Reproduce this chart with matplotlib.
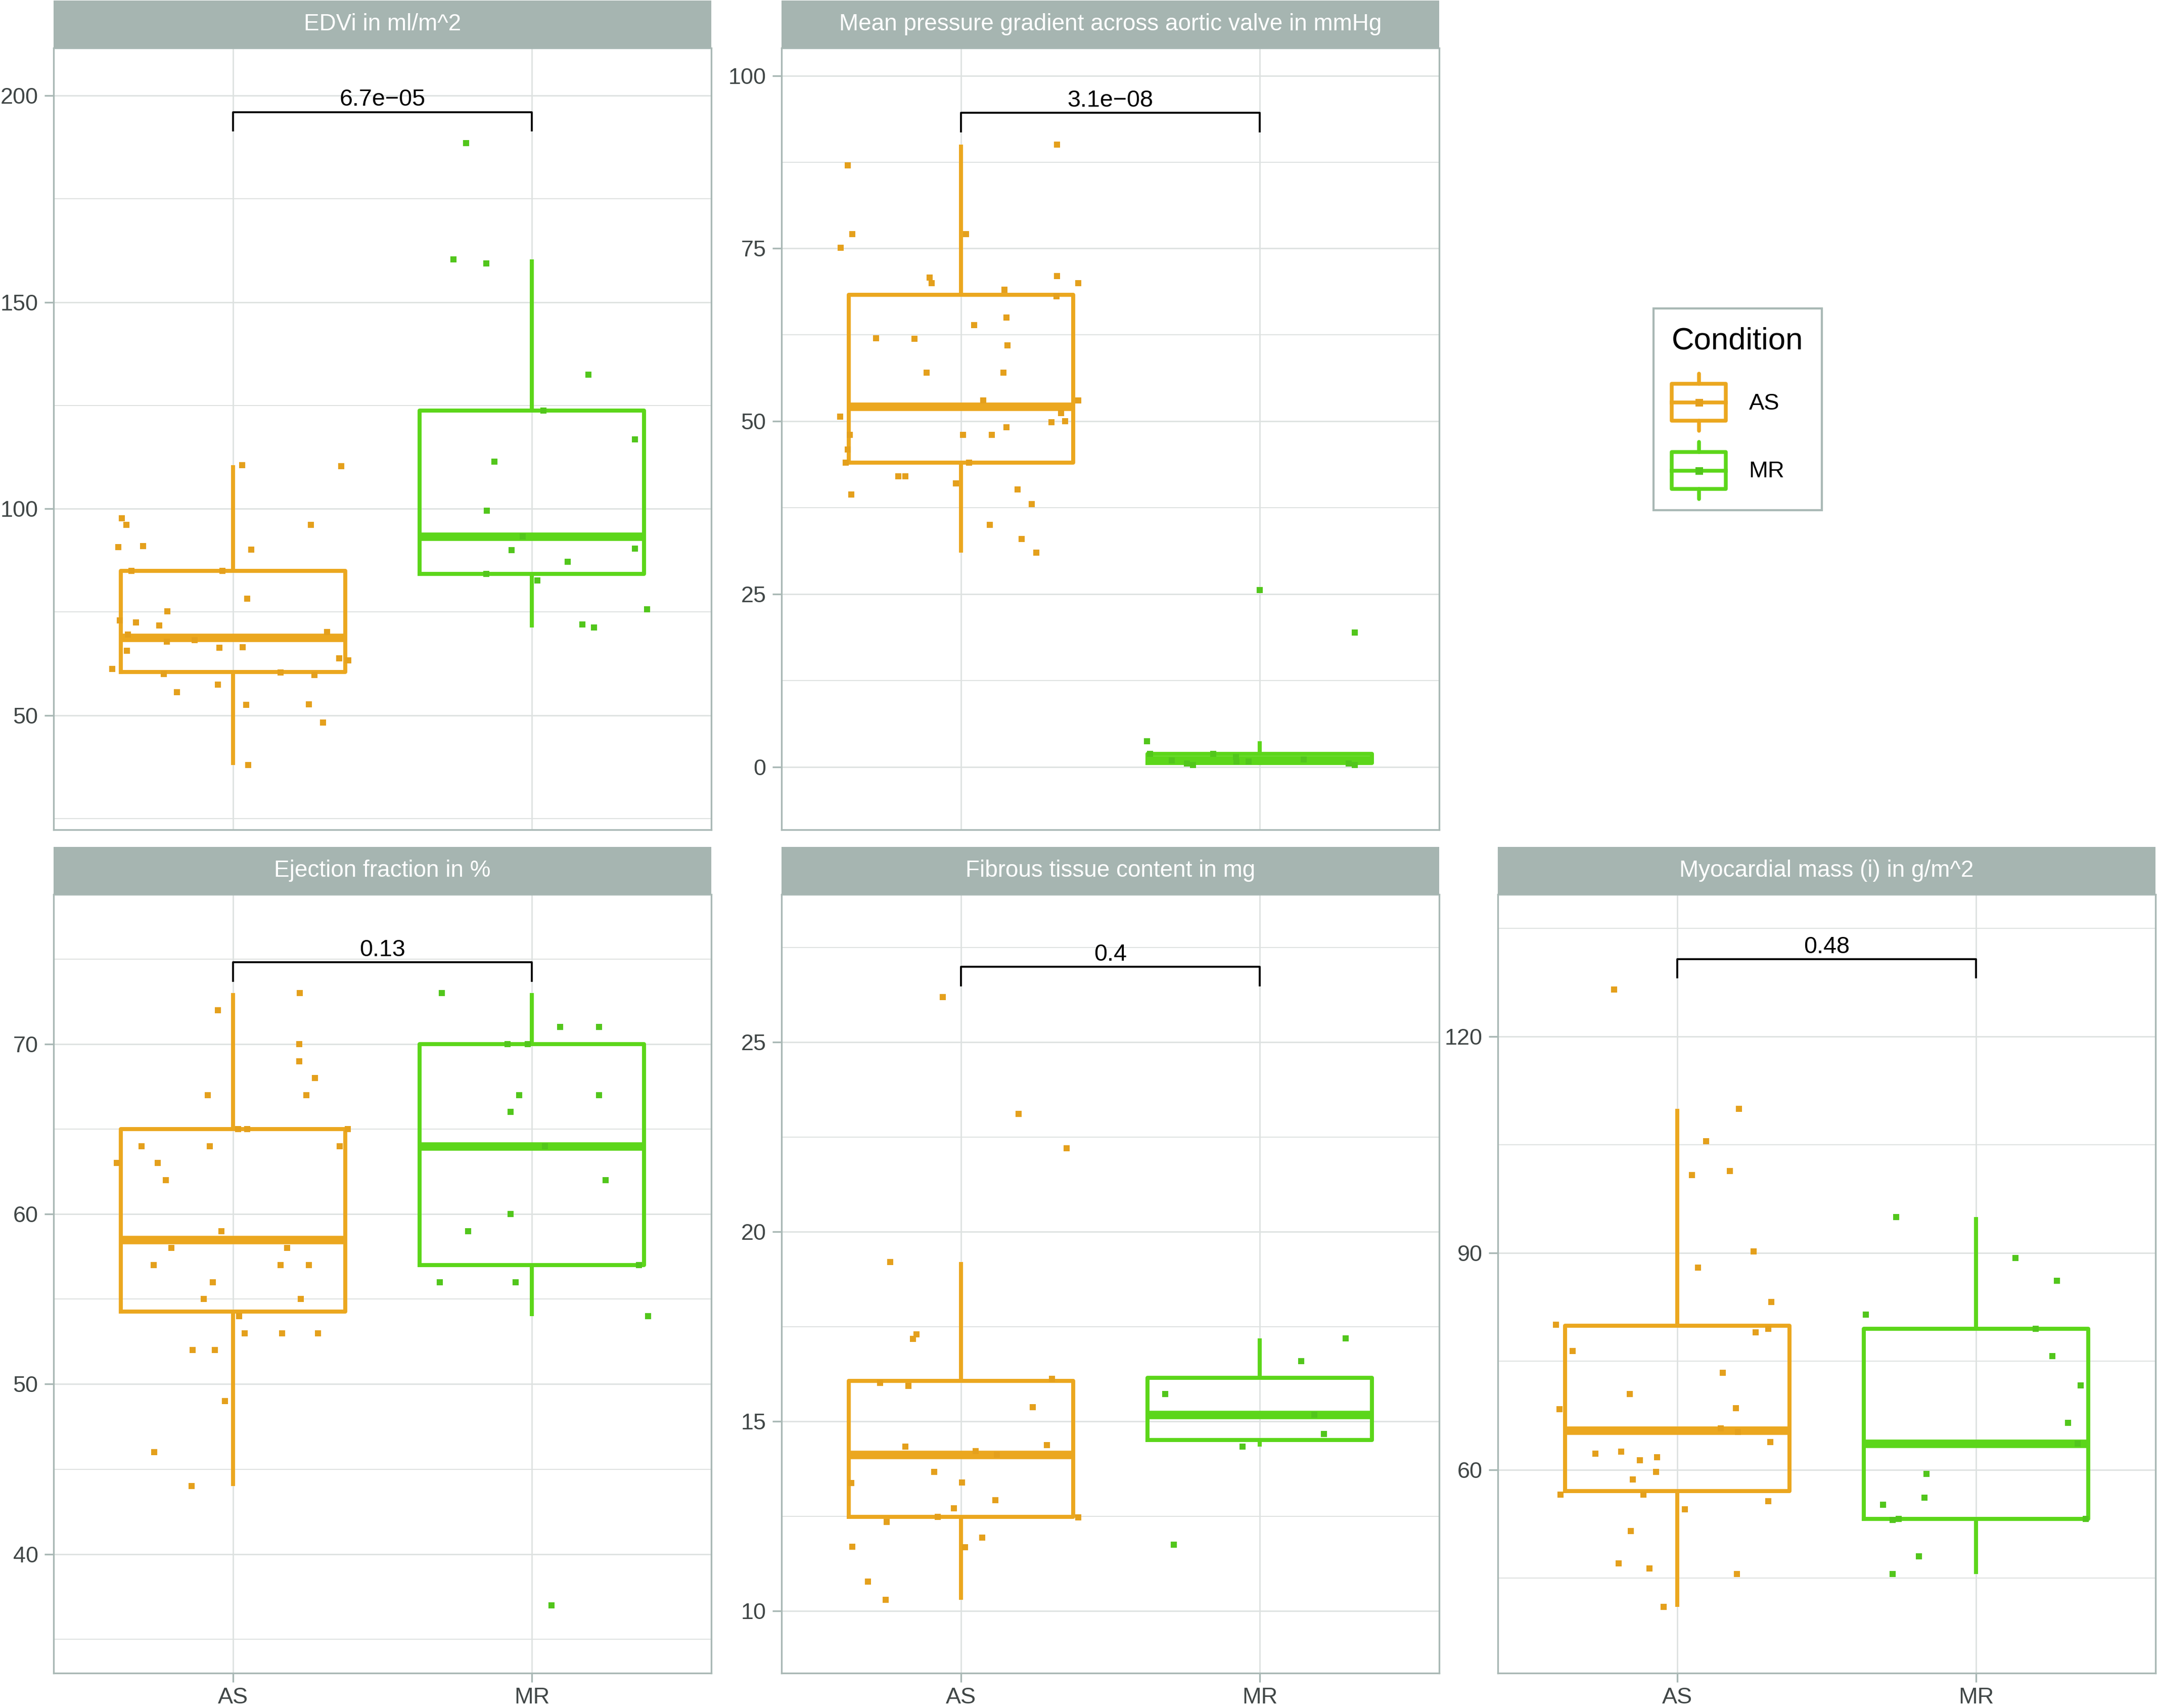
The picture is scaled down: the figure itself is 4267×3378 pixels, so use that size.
import numpy as np
import matplotlib
matplotlib.use('Agg')
import matplotlib.pyplot as plt
from matplotlib.legend_handler import HandlerBase
from matplotlib.patches import Patch, Rectangle
from matplotlib.lines import Line2D

plt.rcParams['font.family'] = ['Liberation Sans', 'DejaVu Sans']

groups = ['AS', 'MR']

# EDVi in ml/m^2
edvi_as = [97.7, 96.1, 90.7, 90.95, 85.0, 85.0, 110.5, 110.3, 96.1, 90.1, 78.2, 75.2, 73.0, 72.5,
           71.8, 70.2, 69.5, 67.8, 68.2, 65.6, 66.3, 66.5, 63.8, 63.3, 61.2, 60.0, 60.3, 59.8,
           55.6, 57.4, 52.5, 52.6, 48.3, 38.0]
edvi_as_dx = [-0.371, -0.357, -0.384, -0.300, -0.339, -0.036, 0.030, 0.362, 0.260, 0.061, 0.048,
              -0.220, -0.379, -0.325, -0.246, 0.315, -0.351, -0.222, -0.128, -0.355, -0.045, 0.033,
              0.355, 0.386, -0.403, -0.232, 0.160, 0.273, -0.188, -0.050, 0.044, 0.254, 0.301, 0.051]
edvi_mr = [188.5, 160.3, 159.4, 132.4, 123.8, 116.8, 111.4, 99.5, 93.3, 90.0, 90.3, 87.2, 84.2,
           82.6, 75.6, 72.0, 71.3]
edvi_mr_dx = [-0.220, -0.263, -0.153, 0.189, 0.038, 0.344, -0.125, -0.151, -0.030, -0.068, 0.344,
              0.119, -0.152, 0.018, 0.386, 0.168, 0.207]

# mean pressure gradient in mmHg
mpg_as = [87.0, 90.0, 77.1, 77.1, 75.1, 70.8, 70.0, 69.0, 71.0, 70.0, 68.1, 63.9, 65.0, 62.0, 61.9,
          61.0, 57.0, 57.0, 53.0, 53.0, 51.2, 50.7, 49.9, 50.0, 48.0, 48.0, 48.0, 49.1, 45.9, 44.0,
          44.0, 42.0, 42.0, 41.0, 39.4, 40.1, 38.0, 35.0, 33.0, 31.0]
mpg_as_dx = [-0.378, 0.322, -0.364, 0.018, -0.402, -0.104, -0.097, 0.146, 0.322, 0.393, 0.320,
             0.045, 0.152, -0.283, -0.155, 0.156, -0.114, 0.143, 0.075, 0.393, 0.335, -0.403,
             0.303, 0.348, -0.372, 0.007, 0.104, 0.152, -0.379, -0.385, 0.027, -0.209, -0.185,
             -0.017, -0.366, 0.189, 0.237, 0.097, 0.203, 0.253]
mpg_mr = [25.6, 19.4, 3.7, 1.9, 0.9, 0.5, 0.3, 1.9, 1.4, 0.8, 0.8, 1.1, 0.5, 0.3]
mpg_mr_dx = [0.0, 0.317, -0.378, -0.368, -0.294, -0.243, -0.224, -0.156, -0.080, -0.078, -0.038,
             0.146, 0.297, 0.318]

# ejection fraction in %
ef_as = [73, 72, 70, 69, 68, 67, 67, 65, 65, 65, 64, 64, 64, 63, 63, 62, 59, 58, 58, 57, 57, 57,
         56, 55, 55, 54, 53, 53, 53, 52, 52, 49, 46, 44]
ef_as_dx = [0.224, -0.051, 0.222, 0.222, 0.274, -0.084, 0.246, 0.017, 0.048, 0.384, -0.305, -0.078,
            0.357, -0.389, -0.251, -0.224, -0.038, -0.206, 0.182, -0.266, 0.159, 0.254, -0.068,
            -0.098, 0.227, 0.020, 0.040, 0.165, 0.284, -0.135, -0.061, -0.026, -0.264, -0.139]
ef_mr = [73, 71, 71, 70, 70, 67, 67, 66, 64, 62, 60, 59, 57, 56, 56, 54, 37]
ef_mr_dx = [-0.301, 0.094, 0.224, -0.082, -0.013, -0.043, 0.224, -0.072, 0.044, 0.246, -0.072,
            -0.213, 0.358, -0.308, -0.054, 0.389, 0.065]

# fibrous tissue content in mg
fib_as = [26.19, 23.11, 22.21, 19.21, 17.30, 17.18, 16.01, 15.93, 16.12, 15.38, 14.34, 14.37, 14.22,
          14.12, 13.67, 13.37, 13.39, 12.92, 12.71, 12.48, 12.47, 12.35, 11.70, 11.68, 11.94, 10.77,
          10.29]
fib_as_dx = [-0.061, 0.193, 0.354, -0.237, -0.149, -0.161, -0.270, -0.176, 0.305, 0.240, -0.186,
             0.287, 0.050, 0.120, -0.089, -0.366, 0.003, 0.115, -0.024, -0.078, 0.392, -0.249,
             -0.364, 0.013, 0.071, -0.311, -0.251]
fib_mr = [17.19, 16.59, 15.72, 15.18, 14.67, 14.34, 11.75]
fib_mr_dx = [0.288, 0.138, -0.317, 0.183, 0.214, -0.057, -0.287]

# myocardial mass (i) in g/m^2
myo_as = [126.5, 110.0, 105.5, 100.8, 101.4, 90.2, 88.0, 83.2, 80.1, 79.0, 79.5, 76.4, 73.4, 70.5,
          68.4, 68.5, 65.7, 65.2, 63.8, 62.2, 62.5, 61.3, 61.7, 59.7, 58.6, 56.5, 56.5, 55.6, 54.5,
          51.5, 47.0, 46.3, 45.5, 41.0]
myo_as_dx = [-0.211, 0.207, 0.097, 0.049, 0.177, 0.255, 0.069, 0.315, -0.405, 0.263, 0.305, -0.350,
             0.152, -0.159, -0.394, 0.196, 0.145, 0.203, 0.311, -0.274, -0.188, -0.125, -0.068,
             -0.070, -0.149, -0.391, -0.113, 0.304, 0.025, -0.156, -0.196, -0.093, 0.200, -0.045]
myo_mr = [95.0, 89.3, 86.2, 81.5, 79.5, 75.7, 71.7, 66.5, 63.6, 59.4, 56.1, 55.1, 53.0, 53.2, 53.2,
          48.0, 45.5]
myo_mr_dx = [-0.267, 0.132, 0.271, -0.369, 0.200, 0.255, 0.349, 0.307, 0.339, -0.166, -0.172,
             -0.311, -0.280, -0.259, 0.367, -0.191, -0.280]

titles = ['EDVi in ml/m^2', 'Mean pressure gradient across aortic valve in mmHg',
          'Ejection fraction in %', 'Fibrous tissue content in mg', 'Myocardial mass (i) in g/m^2']
pvalues = ['6.7e\u221205', '3.1e\u221208', '0.13', '0.4', '0.48']
bracket_y = [196.0, 94.6, 74.8, 26.99, 130.7]
bracket_tip = [191.5, 91.9, 73.7, 26.5, 128.2]

ORANGE = '#EBA71F'
GREEN = '#5CD61A'
ORANGE_PT = '#E4A01C'
GREEN_PT = '#52C61C'
STRIP = '#A6B5B1'
BORDER = '#A9B8B5'
GRID = '#DDE1E0'
TXT = '#404646'

W, H = 4267, 3378
fig = plt.figure(figsize=(W / 300, H / 300), dpi=300)

col_x = [106 / W, 1546 / W, 2963 / W]
pw = 1301 / W
top_b, top_h = 1 - 1641 / H, 1546 / H
bot_b, bot_h = 1 - 3309 / H, 1540 / H
strip_h = 94 / H

spec = [
    (edvi_as, edvi_as_dx, edvi_mr, edvi_mr_dx, (22.3, 211.5), [50, 100, 150, 200], [25, 75, 125, 175]),
    (mpg_as, mpg_as_dx, mpg_mr, mpg_mr_dx, (-9.1, 104), [0, 25, 50, 75, 100], [12.5, 37.5, 62.5, 87.5]),
    (ef_as, ef_as_dx, ef_mr, ef_mr_dx, (33.0, 78.8), [40, 50, 60, 70], [35, 45, 55, 65, 75]),
    (fib_as, fib_as_dx, fib_mr, fib_mr_dx, (8.36, 28.9), [10, 15, 20, 25], [12.5, 17.5, 22.5, 27.5]),
    (myo_as, myo_as_dx, myo_mr, myo_mr_dx, (31.8, 139.7), [60, 90, 120], [45, 75, 105, 135]),
]
slots = [(0, 0), (1, 0), (0, 1), (1, 1), (2, 1)]

for i, (a, adx, m, mdx, ylim, major, minor) in enumerate(spec):
    c, r = slots[i]
    if r == 0:
        ax = fig.add_axes([col_x[c], top_b, pw, top_h])
    else:
        ax = fig.add_axes([col_x[c], bot_b, pw, bot_h])

    ax.set_xlim(0.4, 2.6)
    ax.set_ylim(*ylim)
    ax.set_yticks(major)
    ax.set_yticks(minor, minor=True)
    ax.set_xticks([1, 2])
    ax.grid(True, which='major', color=GRID, lw=0.65, zorder=0)
    ax.grid(True, which='minor', axis='y', color=GRID, lw=0.45, zorder=0)
    ax.set_axisbelow(True)
    for s in ax.spines.values():
        s.set_color(BORDER)
        s.set_linewidth(0.8)
    ax.tick_params(which='major', length=4.3, width=0.8, color=BORDER, labelsize=10.8,
                   labelcolor=TXT, pad=3)
    ax.tick_params(which='minor', length=0)
    if r == 0:
        ax.tick_params(axis='x', length=0, labelbottom=False)
    else:
        ax.set_xticklabels(groups)
        ax.tick_params(axis='x', pad=2.5)

    for vals, col in ((a, ORANGE), (m, GREEN)):
        pos = 1 if col == ORANGE else 2
        ax.boxplot([vals], positions=[pos], widths=0.75, whis=1.5, showfliers=False,
                   showcaps=False, manage_ticks=False,
                   boxprops=dict(color=col, lw=1.9),
                   whiskerprops=dict(color=col, lw=1.9, solid_capstyle='butt'),
                   medianprops=dict(color=col, lw=4.0, solid_capstyle='butt'))

    ax.plot(1 + np.array(adx), a, 's', ms=2.9, mew=0, color=ORANGE_PT, zorder=4)
    ax.plot(2 + np.array(mdx), m, 's', ms=2.9, mew=0, color=GREEN_PT, zorder=4)

    ax.plot([1, 1, 2, 2], [bracket_tip[i], bracket_y[i], bracket_y[i], bracket_tip[i]],
            color='black', lw=0.9, zorder=5)
    ax.annotate(pvalues[i], (1.5, bracket_y[i]), xytext=(0, 3), textcoords='offset points',
                ha='center', va='baseline', fontsize=11.2, color='black')

    # facet strip
    p = ax.get_position()
    sax = fig.add_axes([p.x0, p.y1, p.width, strip_h])
    sax.set_facecolor(STRIP)
    sax.set_xticks([])
    sax.set_yticks([])
    for s in sax.spines.values():
        s.set_visible(False)
    sax.text(0.5, 0.5, titles[i], color='white', ha='center', va='center', fontsize=11,
             transform=sax.transAxes)


class BoxKey(HandlerBase):
    def create_artists(self, legend, orig_handle, xdescent, ydescent, width, height, fontsize, trans):
        col = orig_handle.get_edgecolor()
        pc = orig_handle.get_facecolor()
        x0, y0 = -xdescent, -ydescent
        cx = x0 + width / 2
        ym = y0 + height / 2
        half = 1.24 * fontsize
        bh = 0.80 * fontsize
        w1 = Line2D([cx, cx], [ym - half, ym - bh], color=col, lw=1.8, solid_capstyle='round', transform=trans)
        w2 = Line2D([cx, cx], [ym + bh, ym + half], color=col, lw=1.8, solid_capstyle='round', transform=trans)
        box = Rectangle((x0, ym - bh), width, 2 * bh, fill=False, edgecolor=col, lw=1.8,
                        joinstyle='round', transform=trans)
        med = Line2D([x0, x0 + width], [ym, ym], color=col, lw=1.8, transform=trans)
        pt = Line2D([cx], [ym], marker='s', ms=3.6, mew=0, ls='none', color=pc, transform=trans)
        return [w1, w2, box, med, pt]


handles = [Patch(edgecolor=ORANGE, facecolor=ORANGE_PT), Patch(edgecolor=GREEN, facecolor=GREEN_PT)]
leg = fig.legend(handles, groups, title='Condition', loc='upper left',
                 bbox_to_anchor=(3271 / W, 1 - 610 / H), borderaxespad=0, frameon=True,
                 fancybox=False, edgecolor=BORDER, framealpha=1, fontsize=10.9,
                 title_fontsize=14.8, handlelength=2.35, handleheight=2.5, labelspacing=1.1,
                 handletextpad=1.0, borderpad=0.8, alignment='left',
                 handler_map={Patch: BoxKey()})
leg.get_frame().set_linewidth(1.0)

fig.savefig('out.png', dpi=300)
